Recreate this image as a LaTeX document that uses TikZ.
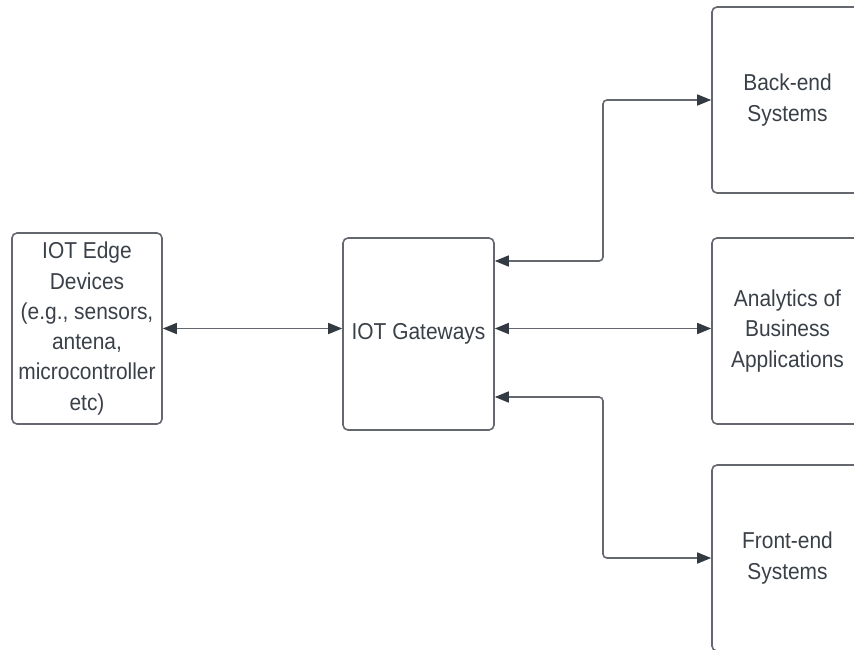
\documentclass[tikz,border=0pt]{standalone}
\usepackage{fontspec}
\setmainfont{Liberation Sans}[FakeStretch=0.91]
\usetikzlibrary{arrows.meta}
\definecolor{linec}{RGB}{100,104,110}
\definecolor{headc}{RGB}{52,58,66}
\definecolor{textc}{RGB}{58,64,72}

\begin{document}
\begin{tikzpicture}[x=1pt,y=-1pt,
            box/.style={draw=linec,line width=1.6pt,rounded corners=5pt,minimum width=151pt,align=center,text=textc,font=\fontsize{23}{30.3}\selectfont,inner sep=0pt},
            tall/.style={box,minimum height=192pt},
            side/.style={box,minimum height=186pt},
            link/.style={draw=linec,line width=1.6pt,rounded corners=4pt,>={Triangle[length=14pt,width=11pt,color=headc]}}
          ]
          \useasboundingbox (0,0) rectangle (854,649);
          \clip (0,0) rectangle (854,649);

          %devices and gateway
          \node[tall,minimum width=150pt,minimum height=191pt] (edge) at (87,328.5) {IOT Edge\\Devices\\(e.g., sensors,\\antena,\\microcontroller\\etc)};
          \node[tall] (gw) at (418.5,334) {IOT Gateways};

          %systems
          \node[side] (back) at (787.5,100) {Back-end\\Systems};
          \node[side] (ana) at (787.5,331) {Analytics of\\Business\\Applications};
          \node[side] (front) at (787.5,558) {Front-end\\Systems};

          %taps
          \coordinate (up) at ([yshift=73pt]gw.east);
          \coordinate (down) at ([yshift=-63pt]gw.east);
          \coordinate (bend) at (603,0);

          %links
          \draw[link,<->] (edge.east) -- (edge.east -| gw.west);
          \draw[link,<->] (gw.east |- edge.east) -- (edge.east -| ana.west);
          \draw[link,<->] (up) -| (bend |- back.west) -- (back.west);
          \draw[link,<->] (down) -| (bend |- front.west) -- (front.west);
      \end{tikzpicture}
\end{document}
